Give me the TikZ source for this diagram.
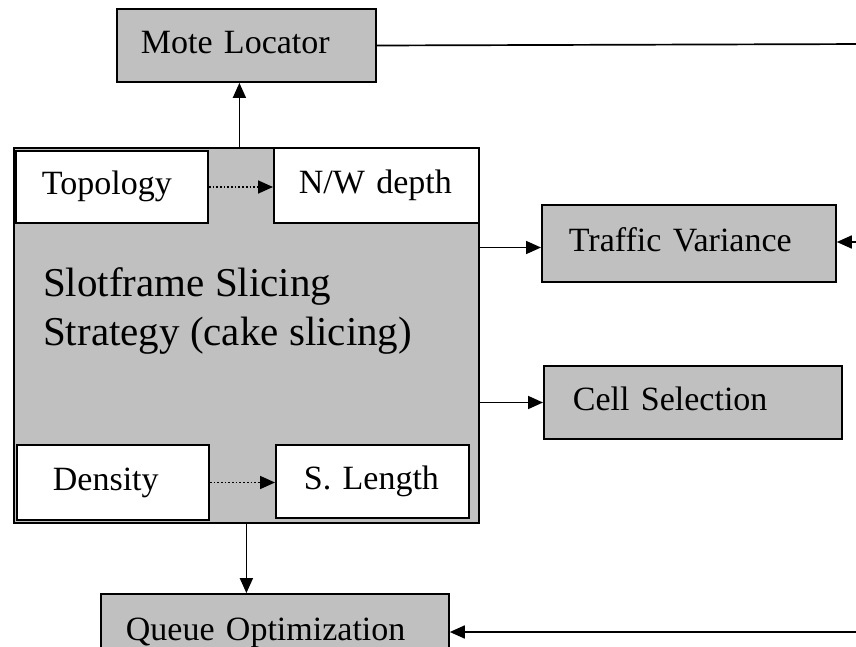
\documentclass[tikz,border=0pt]{standalone}
\usepackage{fontspec}
\setmainfont{Liberation Serif}
\usetikzlibrary{arrows.meta}
\definecolor{boxgray}{RGB}{192,192,192}
\begin{document}
\begin{tikzpicture}[x=1pt,y=1pt,
  bx/.style={draw=black, line width=1.8pt, fill=boxgray, inner xsep=26pt, inner ysep=0pt,
     anchor=west, align=left, font=\fontsize{34}{40}\selectfont, execute at begin node={\strut}},
  wbx/.style={bx, fill=white},
  arr/.style={line width=1.7pt, -{Triangle[length=15pt,width=13pt]}},
  dotarr/.style={line width=1.7pt, dotted, -{Triangle[length=15pt,width=13pt]}}]
\useasboundingbox (0,0) rectangle (856,-647);
\clip (0,0) rectangle (856,-647);
% main box
\node[draw=black, line width=1.8pt, fill=boxgray, minimum width=465pt, minimum height=375pt,
  inner sep=0pt, anchor=north west] (sss) at (13,-147) {};
\node[anchor=north west, inner sep=0pt, align=left, font=\fontsize{41}{49}\selectfont] (ssst)
  at (43,-267) {Slotframe Slicing\\Strategy (cake slicing)};
% inner boxes
\node[wbx, text width=140pt, minimum height=72pt] (topo) at (15,-187) {Topology};
\node[wbx, text width=155pt, minimum height=75pt, inner xsep=25pt] (nw) at (273,-185.5) {N/W depth};
\node[wbx, text width=120pt, minimum height=75pt, inner xsep=36pt] (dens) at (16,-482.5) {Density};
\node[wbx, text width=137pt, minimum height=73pt, inner xsep=28pt] (slen) at (275,-481.5) {S. Length};
% outer boxes
\node[bx, text width=211pt, minimum height=73pt, inner xsep=24pt] (mote) at (116,-45.5) {Mote Locator};
\node[bx, text width=240pt, minimum height=77pt, inner xsep=27pt] (traffic) at (541,-243.5) {Traffic Variance};
\node[bx, text width=240pt, minimum height=73pt, inner xsep=29pt] (cell) at (543,-402.5) {Cell Selection};
\node[bx, text width=298pt, minimum height=76pt, inner xsep=25pt] (queue) at (100,-632) {Queue Optimization};
% free ends beyond the right edge
\coordinate (r1) at (870,-44);
\coordinate (r2) at (870,-242);
\coordinate (r3) at (870,-632);
% connectors
\draw[arr] ([xshift=-7pt]sss.north) -- ([xshift=-7pt]sss.north |- mote.south);
\draw[line width=1.7pt] (mote.east) -- (r1);
\draw[dotarr] (topo.east) -- (topo.east -| nw.west);
\draw[dotarr] (dens.east) -- (dens.east -| slen.west);
\draw[arr] ([yshift=-4pt]traffic.west -| sss.east) -- ([yshift=-4pt]traffic.west);
\draw[arr] (r2) -- (r2 -| traffic.east);
\draw[arr] (cell.west -| sss.east) -- (cell.west);
\draw[arr] (sss.south) -- (sss.south |- queue.north);
\draw[arr] (r3) -- (r3 -| queue.east);
\end{tikzpicture}
\end{document}
